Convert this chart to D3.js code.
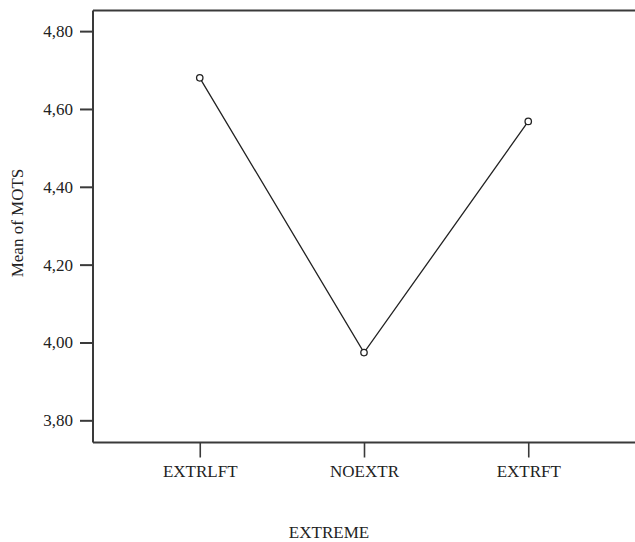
<!DOCTYPE html>
<html>
<head>
<meta charset="utf-8">
<script src="https://cdn.jsdelivr.net/npm/d3@7"></script>
<style>
  body { margin: 0; background: #fff; }
  text { font-family: "Liberation Serif", "Times New Roman", serif; fill: #222; }
</style>
</head>
<body>
<svg id="chart" width="635" height="542"></svg>
<script>
// mean of MOTS by EXTREME group
const categories = ["EXTRLFT", "NOEXTR", "EXTRFT"];
const means = [4.68, 3.974, 4.568];
const yTicks = [3.8, 4.0, 4.2, 4.4, 4.6, 4.8];

const svg = d3.select("#chart");
const W = +svg.attr("width");
const H = +svg.attr("height");

// frame of the plot area (no right border in the original)
const L = 93, T = 10.5, B = 442.5, R = W;
const axisColor = "#3a3a3a";

const x = d3.scalePoint().domain(categories).range([L, R]).padding(0.65);
const y = d3.scaleLinear().domain([3.743, 4.853]).range([B, T]);

const locale = d3.formatLocale({ decimal: ",", thousands: ".", grouping: [3], currency: ["", ""] });
const fmt = locale.format(".2f");

// frame lines
svg.append("line").attr("x1", L).attr("x2", R).attr("y1", T).attr("y2", T)
    .attr("stroke", axisColor).attr("stroke-width", 2);

// y axis
const yAxis = svg.append("g")
    .attr("transform", `translate(${L},0)`)
    .call(d3.axisLeft(y).tickValues(yTicks).tickFormat(fmt).tickSize(13).tickPadding(7));
yAxis.select(".domain").attr("stroke", axisColor).attr("stroke-width", 2)
    .attr("d", `M0,${T}V${B}`);
yAxis.selectAll(".tick line").attr("stroke", axisColor).attr("stroke-width", 2);
yAxis.selectAll(".tick text").style("font-size", "17px")
    .style("font-family", "'Liberation Serif', serif").attr("fill", "#222");

// x axis
const xAxis = svg.append("g")
    .attr("transform", `translate(0,${B})`)
    .call(d3.axisBottom(x).tickSize(15).tickPadding(7));
xAxis.select(".domain").attr("stroke", axisColor).attr("stroke-width", 2)
    .attr("d", `M${L},0H${R}`);
xAxis.selectAll(".tick line").attr("stroke", axisColor).attr("stroke-width", 1.6);
xAxis.selectAll(".tick text").style("font-size", "17px")
    .style("font-family", "'Liberation Serif', serif").attr("fill", "#222");

// axis titles
svg.append("text")
    .attr("x", 329).attr("y", 538)
    .attr("text-anchor", "middle")
    .style("font-size", "17px")
    .text("EXTREME");

svg.append("text")
    .attr("transform", `translate(23,223) rotate(-90)`)
    .attr("text-anchor", "middle")
    .style("font-size", "17px")
    .text("Mean of MOTS");

// line
const line = d3.line()
    .x((d, i) => x(categories[i]))
    .y(d => y(d));

svg.append("path")
    .datum(means)
    .attr("fill", "none")
    .attr("stroke", "#222")
    .attr("stroke-width", 1.3)
    .attr("d", line);

// markers
svg.selectAll("circle.pt")
    .data(means)
    .join("circle")
    .attr("class", "pt")
    .attr("cx", (d, i) => x(categories[i]))
    .attr("cy", d => y(d))
    .attr("r", 3.2)
    .attr("fill", "#fff")
    .attr("stroke", "#222")
    .attr("stroke-width", 1.3);
</script>
</body>
</html>
